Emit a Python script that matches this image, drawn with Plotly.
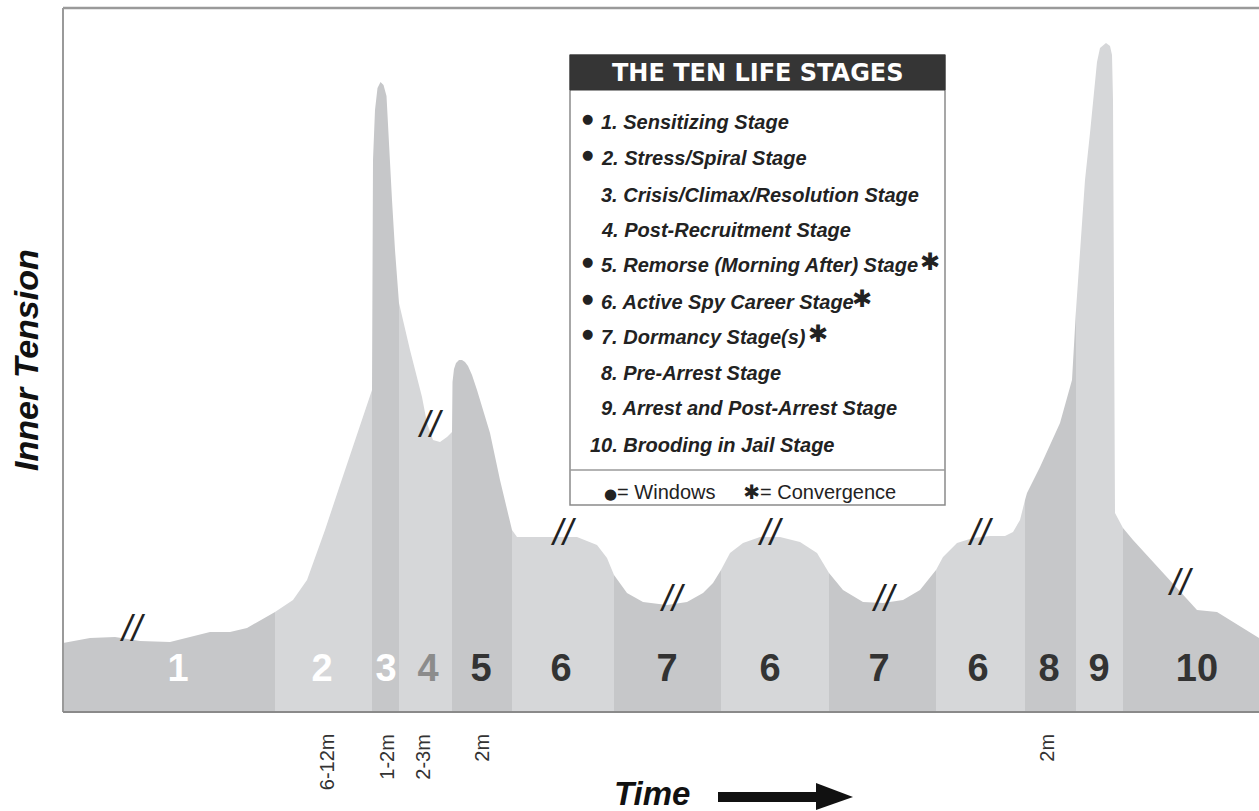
import plotly.graph_objects as go

# ---------------- data ----------------
# time position (pixel-like units along the time axis) and inner tension height
profile_x = [63, 90, 115, 140, 170, 210, 230, 247, 275,
             293, 307, 325, 340, 355, 372,
             372.5, 373, 375, 377.5, 380.5, 383.5, 386.5, 389, 392, 395, 399,
             410, 422, 427, 433, 440, 447, 452,
             452.5, 454, 456, 459, 462, 465, 468, 472, 477, 490, 500, 512,
             517, 577, 597, 607, 614,
             627, 643, 667, 687, 703, 713, 721,
             730, 743, 760, 780, 793, 800, 817, 829,
             843, 863, 883, 903, 920, 936,
             943, 957, 973, 990, 1005, 1013, 1020, 1025,
             1027, 1040, 1060, 1072, 1073, 1076,
             1080, 1085, 1090, 1094, 1097, 1100, 1106, 1110, 1112, 1113, 1114, 1115, 1123,
             1133, 1165, 1197, 1217, 1233, 1259]
profile_y = [69, 74, 75, 71, 70, 80, 80, 84, 100,
             112, 132, 182, 227, 272, 322,
             412, 552, 602, 624, 630, 627, 616, 562, 512, 462, 409,
             362, 315, 289, 272, 270, 275, 280,
             330, 343, 349, 352, 352, 350, 346, 337, 322, 279, 232, 182,
             175, 175, 167, 154, 137,
             119, 110, 107, 110, 119, 129, 142,
             159, 169, 175, 175, 172, 170, 159, 139,
             122, 110, 109, 112, 122, 142,
             155, 169, 174, 176, 176, 180, 192, 212,
             219, 245, 289, 332, 352, 402,
             462, 532, 579, 622, 650, 664, 669, 666, 657, 612, 412, 199, 184,
             172, 137, 102, 100, 90, 74]

band_edges = [63, 275, 372, 399, 452, 512, 614, 721, 829, 936, 1025, 1076, 1123, 1259]
stage_labels = ["1", "2", "3", "4", "5", "6", "7", "6", "7", "6", "8", "9", "10"]
stage_label_x = [178, 322, 386, 428, 481, 561, 667, 770, 879, 978, 1049, 1099, 1197]
stage_label_colors = ["#ffffff", "#ffffff", "#ffffff", "#8c8c8c"] + ["#333333"] * 9

duration_labels = ["6-12m", "1-2m", "2-3m", "2m", "2m"]
duration_x = [327, 387, 423, 482, 1047]

break_x = [132, 430, 563, 672, 770, 884, 980, 1180]
break_y = [80, 284, 176, 110, 176, 110, 176, 126]

legend_title = "THE TEN LIFE STAGES"
legend_items = ["1. Sensitizing Stage", "2. Stress/Spiral Stage",
                "3. Crisis/Climax/Resolution Stage", "4. Post-Recruitment Stage",
                "5. Remorse (Morning After) Stage", "6. Active Spy Career Stage",
                "7. Dormancy Stage(s)", "8. Pre-Arrest Stage",
                "9. Arrest and Post-Arrest Stage", "10. Brooding in Jail Stage"]
legend_window = [True, True, False, False, True, True, True, False, False, False]
legend_convergence_x = [None, None, None, None, 930, 862, 818, None, None, None]

# ---------------- styles ----------------
DARK_BAND = "#c6c7c9"
LIGHT_BAND = "#d6d7d9"
SANS = "Liberation Sans, Arial, sans-serif"

fig = go.Figure()

# bands
for i in range(len(band_edges) - 1):
    x0, x1 = band_edges[i], band_edges[i + 1]
    xs = [x for x in profile_x if x0 <= x <= x1]
    ys = [y for x, y in zip(profile_x, profile_y) if x0 <= x <= x1]
    fig.add_trace(go.Scatter(
        x=xs, y=ys, mode="lines", fill="tozeroy",
        fillcolor=DARK_BAND if i % 2 == 0 else LIGHT_BAND,
        line=dict(width=0, color=DARK_BAND if i % 2 == 0 else LIGHT_BAND),
        hoverinfo="skip", showlegend=False))

# stage numbers
fig.add_trace(go.Scatter(
    x=stage_label_x, y=[41] * len(stage_label_x), mode="text", text=stage_labels,
    textfont=dict(family=SANS, size=38, color=stage_label_colors, weight="bold"),
    textposition="middle center", hoverinfo="skip", showlegend=False))

# break marks
fig.add_trace(go.Scatter(
    x=break_x, y=break_y, mode="text", text=["//"] * len(break_x),
    textfont=dict(family=SANS, size=36, color="#222222", style="italic"),
    textposition="middle center", hoverinfo="skip", showlegend=False))

# legend box
BOX_X0, BOX_X1 = 570, 945
BOX_TOP, BOX_BOTTOM = 657, 207
shapes = [
    dict(type="rect", xref="x", yref="y", x0=BOX_X0, x1=BOX_X1, y0=BOX_BOTTOM, y1=BOX_TOP,
         fillcolor="white", line=dict(color="#8a8a8a", width=1.5), layer="above"),
    dict(type="rect", xref="x", yref="y", x0=BOX_X0, x1=BOX_X1, y0=622, y1=BOX_TOP,
         fillcolor="#353535", line=dict(color="#353535", width=1), layer="above"),
    dict(type="line", xref="x", yref="y", x0=BOX_X0, x1=BOX_X1, y0=242, y1=242,
         line=dict(color="#9a9a9a", width=1.5), layer="above"),
    # frame
    dict(type="line", xref="paper", yref="paper", x0=0, x1=0, y0=0, y1=1,
         line=dict(color="#9a9a9a", width=2), layer="above"),
    dict(type="line", xref="paper", yref="paper", x0=0, x1=1, y0=1, y1=1,
         line=dict(color="#9a9a9a", width=2.5), layer="above"),
    dict(type="line", xref="paper", yref="paper", x0=0, x1=1, y0=0, y1=0,
         line=dict(color="#8a8a8a", width=2), layer="above"),
    # time arrow
    dict(type="rect", xref="x", yref="paper", x0=718, x1=818, y0=-0.1278, y1=-0.1136,
         fillcolor="#111111", line=dict(width=0)),
    dict(type="path", xref="x", yref="paper",
         path="M 816 -0.1009 L 853 -0.1207 L 816 -0.1392 Z",
         fillcolor="#111111", line=dict(width=0)),
]

annotations = []
annotations.append(dict(x=758, y=639.5, xref="x", yref="y", text=legend_title, showarrow=False,
                        font=dict(family="DejaVu Sans, Arial Black, sans-serif", size=24,
                                  color="white", weight="bold")))
row_y = [590, 554, 517, 482, 447, 410, 375, 339, 304, 267]
for i, item in enumerate(legend_items):
    annotations.append(dict(x=588 if item.startswith("10") else 599, y=row_y[i], xref="x", yref="y",
                            text=item, showarrow=False, xanchor="left", yanchor="middle",
                            font=dict(family=SANS, size=20, color="#222222",
                                      weight="bold", style="italic")))
    if legend_window[i]:
        annotations.append(dict(x=587, y=row_y[i] + 4, xref="x", yref="y", text="●",
                                showarrow=False,
                                font=dict(family="DejaVu Sans, sans-serif", size=13,
                                          color="#222222")))
    if legend_convergence_x[i] is not None:
        annotations.append(dict(x=legend_convergence_x[i], y=row_y[i] + 3, xref="x", yref="y",
                                text="✱", showarrow=False,
                                font=dict(family="DejaVu Sans, sans-serif", size=24,
                                          color="#222222")))
annotations.append(dict(x=750, y=220, xref="x", yref="y",
                        text="<span style='font-family:DejaVu Sans;font-size:15px'>●</span>= Windows     "
                             "<span style='font-family:DejaVu Sans;font-size:20px'>✱</span>= Convergence",
                        showarrow=False,
                        font=dict(family=SANS, size=20, color="#222222")))

for lab, xv in zip(duration_labels, duration_x):
    annotations.append(dict(x=xv, y=-0.028, xref="x", yref="paper", text=lab, showarrow=False,
                            textangle=-90, xanchor="center", yanchor="top",
                            font=dict(family=SANS, size=20, color="#333333")))

annotations.append(dict(x=652, y=-0.116, xref="x", yref="paper", text="Time", showarrow=False,
                        xanchor="center", yanchor="middle",
                        font=dict(family=SANS, size=33, color="#111111",
                                  weight="bold", style="italic")))
annotations.append(dict(x=-0.031, y=352, xref="paper", yref="y", text="Inner Tension",
                        showarrow=False, textangle=-90, xanchor="center", yanchor="middle",
                        font=dict(family=SANS, size=34, color="#111111",
                                  weight="bold", style="italic")))

fig.update_layout(
    width=1259, height=811, autosize=False,
    margin=dict(l=63, r=0, t=8, b=99, pad=0),
    paper_bgcolor="white", plot_bgcolor="white",
    xaxis=dict(range=[63, 1259], visible=False, fixedrange=True),
    yaxis=dict(range=[0, 704], visible=False, fixedrange=True),
    shapes=shapes, annotations=annotations, showlegend=False,
)

fig.write_html("out.html", config={"displayModeBar": False},
               post_script="document.body.style.margin='0px';")
